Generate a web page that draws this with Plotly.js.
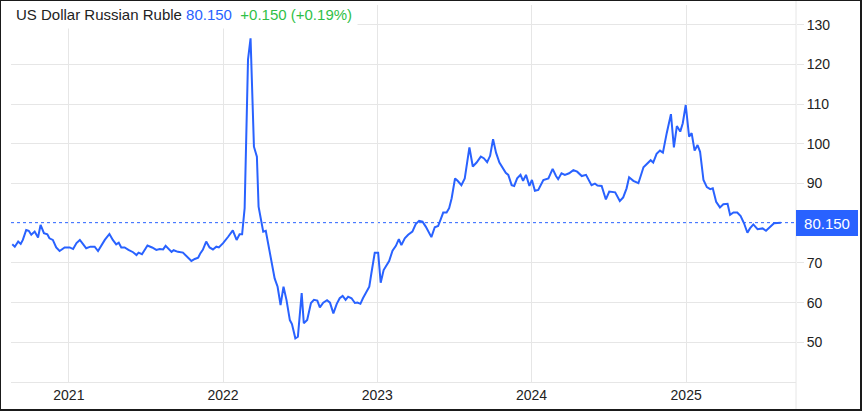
<!DOCTYPE html>
<html>
<head>
<meta charset="utf-8">
<script src="https://cdn.plot.ly/plotly-3.0.1.min.js"></script>
<style>
  html, body { margin: 0; padding: 0; background: #fff; }
  #wrap { position: relative; width: 862px; height: 411px; }
  #chart { width: 862px; height: 411px; }
  #frame { position: absolute; left: 0; top: 0; width: 862px; height: 411px; box-sizing: border-box;
           border-style: solid; border-color: #1a1a1a; border-width: 1px 2px 2px 1px; pointer-events: none; }
</style>
</head>
<body>
<div id="wrap"><div id="chart"></div><div id="frame"></div></div>
<script>
// ---- Data ----
const dates2020 = ["2020-08-20","2020-08-26","2020-09-03","2020-09-09","2020-09-14","2020-09-22","2020-09-28","2020-10-04","2020-10-12","2020-10-20","2020-10-26","2020-11-03","2020-11-11","2020-11-16","2020-11-24","2020-12-02","2020-12-10","2020-12-22"];
const rub2020   = [74.7,74.1,75.4,74.8,75.8,78.3,78.1,77.1,77.9,76.4,79.6,77.5,77.2,76.2,75.8,73.9,73.0,73.9];

const dates2021 = ["2021-01-03","2021-01-11","2021-01-19","2021-01-27","2021-02-04","2021-02-11","2021-02-21","2021-03-03","2021-03-11","2021-03-19","2021-03-27","2021-04-07","2021-04-15","2021-04-23","2021-04-29","2021-05-05","2021-05-13","2021-05-22","2021-06-02","2021-06-10","2021-06-15","2021-06-23","2021-07-06","2021-07-17","2021-07-27","2021-08-04","2021-08-12","2021-08-18","2021-08-26","2021-09-01","2021-09-06","2021-09-16","2021-09-28","2021-10-08","2021-10-18","2021-10-26","2021-11-03","2021-11-08","2021-11-14","2021-11-22","2021-11-30","2021-12-08","2021-12-16","2021-12-22"];
const rub2021   = [73.9,73.5,75.0,75.8,74.7,73.7,74.1,74.1,73.0,74.5,75.8,77.3,75.8,74.7,75.1,73.9,73.9,73.3,72.7,72.0,72.6,72.2,74.4,73.9,73.3,73.5,73.4,74.3,73.4,72.8,73.2,72.8,72.6,71.6,70.5,71.0,71.3,72.4,73.3,75.4,73.9,73.4,74.1,73.9];

const dates2022 = ["2022-01-01","2022-01-13","2022-01-24","2022-02-02","2022-02-09","2022-02-15","2022-02-21","2022-03-01","2022-03-07","2022-03-15","2022-03-22","2022-03-26","2022-04-02","2022-04-06","2022-04-12","2022-04-19","2022-04-26","2022-05-03","2022-05-10","2022-05-17","2022-05-24","2022-05-31","2022-06-08","2022-06-13","2022-06-21","2022-06-27","2022-07-06","2022-07-11","2022-07-19","2022-07-28","2022-08-04","2022-08-12","2022-08-18","2022-08-26","2022-09-04","2022-09-11","2022-09-19","2022-09-27","2022-10-04","2022-10-11","2022-10-18","2022-10-24","2022-11-01","2022-11-09","2022-11-15","2022-11-22","2022-11-28","2022-12-13","2022-12-18","2022-12-26"];
const rub2022   = [75.0,76.6,78.2,75.8,77.2,77.2,83.8,121.3,126.6,99.3,96.8,84.2,80.0,77.9,78.1,74.1,69.9,66.1,64.0,59.4,64.0,60.7,55.6,54.6,51.0,51.4,62.4,54.8,55.6,59.9,60.7,60.5,58.8,60.0,60.6,60.0,57.3,59.7,61.1,61.7,60.7,61.5,61.1,59.9,60.0,59.7,61.1,64.0,67.4,72.6];

const dates2023 = ["2023-01-03","2023-01-09","2023-01-16","2023-01-23","2023-01-29","2023-02-06","2023-02-14","2023-02-21","2023-02-27","2023-03-07","2023-03-15","2023-03-25","2023-04-02","2023-04-10","2023-04-18","2023-04-26","2023-05-04","2023-05-09","2023-05-17","2023-05-25","2023-05-31","2023-06-06","2023-06-14","2023-06-20","2023-06-26","2023-07-04","2023-07-10","2023-07-19","2023-07-27","2023-08-07","2023-08-15","2023-08-24","2023-09-03","2023-09-10","2023-09-18","2023-09-25","2023-10-02","2023-10-09","2023-10-17","2023-10-25","2023-11-01","2023-11-07","2023-11-15","2023-11-21","2023-11-28","2023-12-06","2023-12-12","2023-12-19","2023-12-27"];
const rub2023   = [72.6,65.0,68.2,69.5,70.5,73.1,74.3,76.0,74.5,76.2,77.1,77.9,79.8,80.6,80.4,79.1,77.5,76.5,79.0,79.3,81.0,82.7,82.7,83.8,86.3,91.3,90.7,89.6,91.3,99.1,94.3,95.3,96.8,96.4,95.4,97.0,101.2,97.8,95.3,93.8,92.7,92.2,89.6,89.4,91.3,92.2,90.7,92.2,89.4];

const dates2024 = ["2024-01-02","2024-01-09","2024-01-17","2024-01-29","2024-02-10","2024-02-20","2024-02-28","2024-03-04","2024-03-12","2024-03-20","2024-03-30","2024-04-09","2024-04-18","2024-04-29","2024-05-09","2024-05-14","2024-05-22","2024-05-30","2024-06-05","2024-06-15","2024-06-25","2024-07-03","2024-07-17","2024-07-28","2024-08-05","2024-08-13","2024-08-19","2024-08-29","2024-09-10","2024-09-22","2024-10-01","2024-10-09","2024-10-15","2024-10-23","2024-10-31","2024-11-07","2024-11-16","2024-11-26","2024-12-03","2024-12-10","2024-12-18","2024-12-24","2024-12-31"];
const rub2024   = [90.9,88.2,88.4,90.9,91.3,93.7,91.9,91.1,92.6,92.2,92.6,93.4,93.0,91.9,92.2,91.1,89.6,90.0,89.5,89.4,86.0,88.0,87.8,85.6,86.5,88.8,91.6,90.7,90.1,94.1,95.1,95.9,95.3,97.5,98.3,97.8,102.7,107.5,99.1,104.5,103.1,105.2,109.8];

const dates2025 = ["2025-01-08","2025-01-14","2025-01-21","2025-01-28","2025-02-03","2025-02-11","2025-02-19","2025-02-27","2025-03-05","2025-03-13","2025-03-22","2025-03-30","2025-04-09","2025-04-15","2025-04-23","2025-05-02","2025-05-10","2025-05-18","2025-05-26","2025-06-01","2025-06-09","2025-06-19","2025-07-01","2025-07-09","2025-07-19","2025-07-28","2025-08-13"];
const rub2025   = [101.8,102.7,98.3,99.7,98.0,90.9,89.1,88.6,88.8,85.4,84.0,84.8,84.9,82.1,82.7,82.7,81.8,80.0,77.6,78.7,79.7,78.5,78.7,78.1,79.1,80.0,80.15];

const yearTicks  = ["2021-01-01","2022-01-01","2023-01-01","2024-01-01","2025-01-01"];
const yearLabels = ["2021","2022","2023","2024","2025"];
const priceTicks = [50,60,70,90,100,110,120,130];

const lastPrice  = 80.150;
const titleName  = "US Dollar Russian Ruble";
const titlePrice = "80.150";
const titleChange = "+0.150 (+0.19%)";

// ---- Build ----
const xs = [].concat(dates2020, dates2021, dates2022, dates2023, dates2024, dates2025);
const ys = [].concat(rub2020, rub2021, rub2022, rub2023, rub2024, rub2025);

const BLUE = "#2962ff";
const GRID = "#e6e6e6";
const FONT = "Arial, 'Liberation Sans', sans-serif";

const trace = {
  x: xs, y: ys, type: "scatter", mode: "lines",
  line: { color: BLUE, width: 2 }, hoverinfo: "skip"
};

const layout = {
  width: 862, height: 411,
  margin: { l: 11, r: 66, t: 5, b: 29, pad: 0 },
  paper_bgcolor: "#ffffff", plot_bgcolor: "#ffffff",
  showlegend: false,
  font: { family: FONT, size: 14, color: "#222" },
  xaxis: {
    type: "date", range: ["2020-08-17", "2025-09-18"],
    tickvals: yearTicks, ticktext: yearLabels,
    showgrid: true, gridcolor: GRID, gridwidth: 1,
    showline: true, linecolor: GRID, linewidth: 1,
    ticks: "", zeroline: false,
    tickfont: { family: FONT, size: 14, color: "#222" }
  },
  yaxis: {
    side: "right", range: [40, 135],
    tickvals: priceTicks,
    showgrid: true, gridcolor: GRID, gridwidth: 1,
    ticks: "outside", ticklen: 7, tickcolor: GRID,
    zeroline: false, showline: false,
    tickfont: { family: FONT, size: 14, color: "#222" }
  },
  shapes: [
    { type: "line", xref: "paper", yref: "y", x0: 0, x1: 1, y0: lastPrice, y1: lastPrice,
      line: { color: BLUE, width: 1, dash: "dot" }, layer: "between" },
    { type: "line", xref: "paper", yref: "paper", x0: 1, x1: 1, y0: -0.08, y1: 1.02,
      line: { color: GRID, width: 1 }, layer: "below" }
  ],
  annotations: [
    { xref: "paper", yref: "paper", x: 0.0, y: 0.976, xanchor: "left", yanchor: "middle",
      showarrow: false, bgcolor: "#ffffff", borderpad: 5, xshift: -1,
      font: { family: FONT, size: 15, color: "#222" },
      text: titleName + " <span style='color:" + BLUE + "'>" + titlePrice + "</span>\u00a0\u00a0<span style='color:#2fbf47'>" + titleChange + "</span>" },
    { xref: "paper", yref: "y", x: 1, y: lastPrice, xanchor: "left", yanchor: "middle",
      showarrow: false, bgcolor: BLUE, borderpad: 3, borderwidth: 0, width: 56, height: 20,
      font: { family: FONT, size: 15, color: "#ffffff" }, text: lastPrice.toFixed(3) }
  ]
};

Plotly.newPlot("chart", [trace], layout, { displayModeBar: false, staticPlot: true });
</script>
</body>
</html>
